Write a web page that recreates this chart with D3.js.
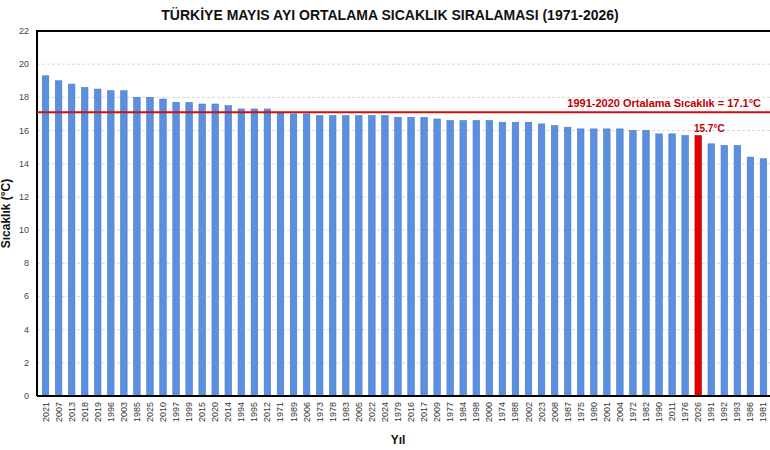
<!DOCTYPE html>
<html>
<head>
<meta charset="utf-8">
<script src="https://cdn.jsdelivr.net/npm/d3@7"></script>
<style>
  body { margin: 0; background: #fff; }
  svg { display: block; font-family: "Liberation Sans", Arial, sans-serif; }
</style>
</head>
<body>
<svg id="chart" width="770" height="450"></svg>
<script>
// years sorted from warmest to coldest
var years = ['2021','2007','2013','2018','2019','1996','2003','1985','2025','2010',
  '1997','1999','2015','2020','2014','1994','1995','2012','1971','1989',
  '2006','1973','1978','1983','2005','2022','2024','1979','2016','2017',
  '2009','1977','1984','1998','2000','1974','1988','2002','2023','2008',
  '1987','1975','1980','2001','2004','1972','1982','1990','2011','1976',
  '2026','1991','1992','1993','1986','1981'];
var temps = [19.3,19.0,18.8,18.6,18.5,18.4,18.4,18.0,18.0,17.9,
  17.7,17.7,17.6,17.6,17.5,17.3,17.3,17.3,17.1,17.0,
  17.0,16.9,16.9,16.9,16.9,16.9,16.9,16.8,16.8,16.8,
  16.7,16.6,16.6,16.6,16.6,16.5,16.5,16.5,16.4,16.3,
  16.2,16.1,16.1,16.1,16.1,16.0,16.0,15.8,15.8,15.7,
  15.7,15.2,15.1,15.1,14.4,14.3];
var yTicks = [0,2,4,6,8,10,12,14,16,18,20,22];
var normalValue = 17.1;
var highlightYear = '2026';

var data = years.map(function(y, i) { return {year: y, temp: temps[i]}; });

var svg = d3.select('#chart');
var plotLeft = 37, plotRight = 772, plotTop = 31, plotBottom = 396;

var x = d3.scaleBand().domain(years).range([39, 770]).paddingInner(0.5).paddingOuter(0.25);
var y = d3.scaleLinear().domain([0, 22]).range([plotBottom, plotTop]);

// grid
svg.append('g').selectAll('line')
  .data(yTicks.filter(function(d) { return d > 0 && d < 22; }))
  .enter().append('line')
  .attr('x1', plotLeft).attr('x2', plotRight)
  .attr('y1', function(d) { return y(d); })
  .attr('y2', function(d) { return y(d); })
  .style('stroke', '#d9d9d9')
  .style('stroke-dasharray', '3,2')
  .style('stroke-width', 1);

// bars
svg.append('g').selectAll('rect')
  .data(data)
  .enter().append('rect')
  .attr('x', function(d) { return x(d.year); })
  .attr('width', x.bandwidth())
  .attr('y', function(d) { return y(d.temp); })
  .attr('height', function(d) { return y(0) - y(d.temp); })
  .style('fill', function(d) { return d.year === highlightYear ? '#e00000' : '#5b8fe0'; })
  .style('stroke', function(d) { return d.year === highlightYear ? '#c00000' : '#4a78c4'; })
  .style('stroke-width', 0.6);

// frame
svg.append('path')
  .attr('d', 'M' + plotLeft + ',' + plotBottom + 'V' + plotTop + 'H' + plotRight)
  .style('fill', 'none').style('stroke', '#000').style('stroke-width', 2);
svg.append('line')
  .attr('x1', plotLeft).attr('x2', plotRight).attr('y1', plotBottom).attr('y2', plotBottom)
  .style('stroke', '#000').style('stroke-width', 2);

// y axis labels
svg.append('g').selectAll('text')
  .data(yTicks)
  .enter().append('text')
  .attr('x', 29)
  .attr('y', function(d) { return y(d) + 3; })
  .attr('text-anchor', 'end')
  .style('font-size', '9px')
  .style('fill', '#444')
  .text(function(d) { return d; });

// x axis labels
svg.append('g').selectAll('text')
  .data(years)
  .enter().append('text')
  .attr('transform', function(d) {
    return 'translate(' + (x(d) + x.bandwidth() / 2 + 3) + ',' + (plotBottom + 6) + ') rotate(-90)';
  })
  .attr('text-anchor', 'end')
  .style('font-size', '9px')
  .style('fill', '#333')
  .text(function(d) { return d; });

// normal line
svg.append('line')
  .attr('x1', plotLeft).attr('x2', plotRight)
  .attr('y1', y(normalValue)).attr('y2', y(normalValue))
  .style('stroke', '#d01010').style('stroke-width', 2);

svg.append('text')
  .attr('x', 761).attr('y', y(normalValue) - 5)
  .attr('text-anchor', 'end')
  .style('font-size', '11px').style('font-weight', 'bold')
  .style('fill', '#c00000')
  .text('1991-2020 Ortalama Sıcaklık = ' + normalValue + '°C');

var hl = data.filter(function(d) { return d.year === highlightYear; })[0];
svg.append('text')
  .attr('x', x(hl.year) - 1).attr('y', y(hl.temp) - 4)
  .style('font-size', '10px').style('font-weight', 'bold')
  .style('fill', '#c00000')
  .text(hl.temp + '°C');

// titles
svg.append('text')
  .attr('x', 390).attr('y', 20)
  .attr('text-anchor', 'middle')
  .style('font-size', '14px').style('font-weight', 'bold')
  .style('fill', '#111')
  .text('TÜRKİYE MAYIS AYI ORTALAMA SICAKLIK SIRALAMASI (1971-2026)');

svg.append('text')
  .attr('transform', 'translate(10,' + ((plotTop + plotBottom) / 2) + ') rotate(-90)')
  .attr('text-anchor', 'middle')
  .style('font-size', '12px').style('font-weight', 'bold')
  .style('fill', '#111')
  .text('Sıcaklık (°C)');

svg.append('text')
  .attr('x', 398).attr('y', 444)
  .attr('text-anchor', 'middle')
  .style('font-size', '12px').style('font-weight', 'bold')
  .style('fill', '#111')
  .text('Yıl');
</script>
</body>
</html>
